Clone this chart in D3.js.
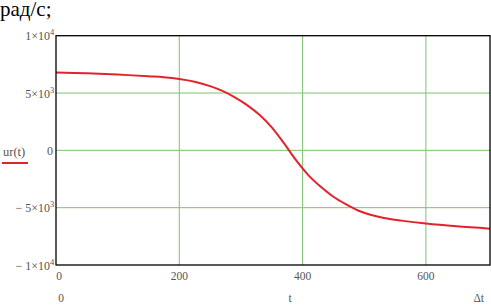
<!DOCTYPE html>
<html><head><meta charset="utf-8">
<script src="https://cdn.jsdelivr.net/npm/d3@7"></script>
<style>body{margin:0;background:#fff}svg{display:block}</style>
</head><body>
<script>
const tValues = [0,50,100,150,175,200,225,250,270,290,310,330,350,370,390,410,430,450,470,490,510,530,560,600,650,704];
const urValues = [6800,6720,6610,6460,6380,6230,5990,5600,5180,4620,3950,3100,2000,600,-900,-2200,-3200,-4050,-4700,-5250,-5620,-5880,-6130,-6390,-6630,-6830];
const xTicks = [0,200,400,600];
const yTicks = [10000,5000,0,-5000,-10000];
const yTickLabels = [["1×10","4"],["5×10","3"],["0",""],["− 5×10","3"],["− 1×10","4"]];

const W=491,H=307;
const svg=d3.select("body").append("svg").attr("width",W).attr("height",H);
const x=d3.scaleLinear().domain([0,704]).range([56,490]);
const y=d3.scaleLinear().domain([-10000,10000]).range([265,35.7]);

// grid
svg.append("g").selectAll("line").data(xTicks.slice(1)).join("line")
  .attr("x1",d=>x(d)).attr("x2",d=>x(d)).attr("y1",y(10000)).attr("y2",y(-10000))
  .attr("stroke","#7cc46c").attr("stroke-width",1);
svg.append("g").selectAll("line").data(yTicks.slice(1,4)).join("line")
  .attr("y1",d=>y(d)).attr("y2",d=>y(d)).attr("x1",x(0)).attr("x2",x(704))
  .attr("stroke","#7cc46c").attr("stroke-width",1);

// curve
const line=d3.line().x((d,i)=>x(tValues[i])).y(d=>y(d)).curve(d3.curveCatmullRom.alpha(0.5));
svg.append("path").datum(urValues).attr("d",line).attr("fill","none")
  .attr("stroke","#e3232c").attr("stroke-width",2);

// border
svg.append("rect").attr("x",x(0)).attr("y",y(10000)).attr("width",x(704)-x(0)).attr("height",y(-10000)-y(10000))
  .attr("fill","none").attr("stroke","#000").attr("stroke-width",1.3);

const font="'Liberation Serif', serif";
// y tick labels
const yl=svg.append("g").attr("font-family",font).attr("font-size",12).attr("fill","#555");
yTicks.forEach((v,i)=>{
  yl.append("text").attr("x",yTickLabels[i][1]?50:53).attr("y",y(v)+4.5).attr("text-anchor","end").text(yTickLabels[i][0]);
  if(yTickLabels[i][1]) yl.append("text").attr("x",50).attr("y",y(v)-0.5).attr("font-size",8.5).text(yTickLabels[i][1]);
});

// x tick labels
const xl=svg.append("g").attr("font-family",font).attr("font-size",11.5).attr("fill","#555");
xl.selectAll("text").data(xTicks).join("text")
  .attr("x",d=>d===0?x(d)+3:x(d)).attr("y",280).attr("text-anchor","middle").text(d=>d);
xl.append("text").attr("x",61).attr("y",302).attr("text-anchor","middle").text("0");
xl.append("text").attr("x",290).attr("y",302).attr("text-anchor","middle").text("t");
xl.append("text").attr("x",484).attr("y",302).attr("text-anchor","end").text("Δt");

// legend
svg.append("text").attr("x",3).attr("y",156).attr("font-family",font).attr("font-size",12.5).attr("fill","#555").text("ur(t)");
svg.append("line").attr("x1",2).attr("x2",28).attr("y1",163).attr("y2",163).attr("stroke","#e3232c").attr("stroke-width",2);

// title
svg.append("text").attr("x",0).attr("y",16).attr("font-family",font).attr("font-size",21).attr("fill","#000").text("рад/с;");
</script>
</body></html>
